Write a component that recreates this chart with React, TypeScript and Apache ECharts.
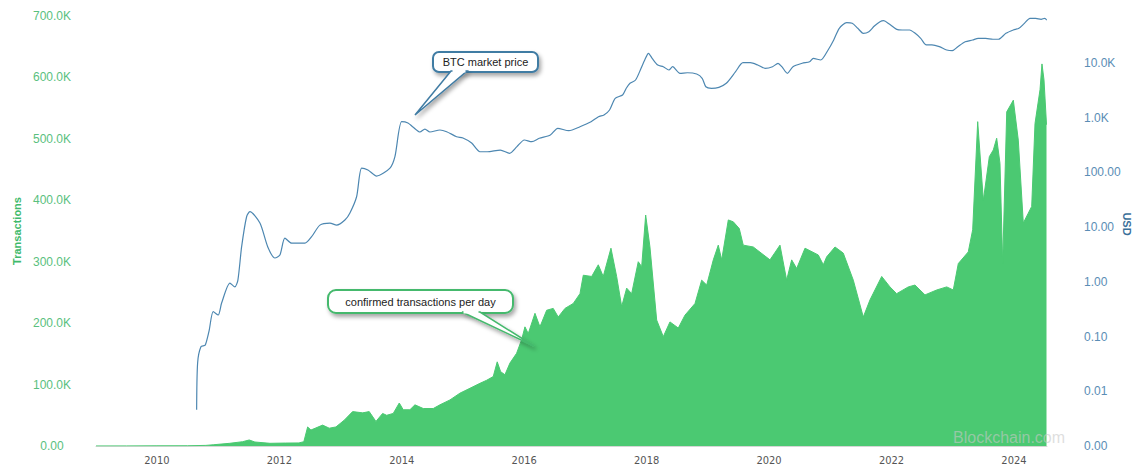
import React, { useEffect, useRef } from 'react';
import * as echarts from 'echarts';

// Year labels shown on the horizontal axis
const yearTicks = [2010, 2012, 2014, 2016, 2018, 2020, 2022, 2024];

// Confirmed transactions per day (fractional year -> count)
const txYears = [
  2009.005, 2009.5, 2010.0, 2010.5, 2010.8, 2010.92, 2011.19, 2011.4, 2011.508, 2011.6,
  2011.846, 2012.1, 2012.32, 2012.40, 2012.462, 2012.516, 2012.707, 2012.815, 2012.924, 2013.060,
  2013.197, 2013.361, 2013.468, 2013.578, 2013.687, 2013.753, 2013.860, 2013.959, 2014.024, 2014.133,
  2014.215, 2014.351, 2014.514, 2014.623, 2014.787, 2014.950, 2015.114, 2015.277, 2015.386, 2015.494,
  2015.559, 2015.615, 2015.685, 2015.767, 2015.876, 2015.958, 2016.012, 2016.066, 2016.176, 2016.257,
  2016.367, 2016.474, 2016.556, 2016.666, 2016.801, 2016.911, 2016.965, 2017.102, 2017.210, 2017.291,
  2017.417, 2017.510, 2017.592, 2017.674, 2017.755, 2017.863, 2017.919, 2017.984, 2018.054, 2018.164,
  2018.272, 2018.381, 2018.517, 2018.626, 2018.790, 2018.899, 2018.981, 2019.089, 2019.170, 2019.226,
  2019.334, 2019.415, 2019.513, 2019.578, 2019.742, 2020.015, 2020.178, 2020.287, 2020.369, 2020.451,
  2020.587, 2020.804, 2020.886, 2020.941, 2021.077, 2021.212, 2021.376, 2021.539, 2021.649, 2021.840,
  2021.975, 2022.084, 2022.274, 2022.383, 2022.547, 2022.738, 2022.902, 2023.009, 2023.091, 2023.254,
  2023.326, 2023.408, 2023.500, 2023.598, 2023.663, 2023.718, 2023.772, 2023.816, 2023.882, 2023.990,
  2024.071, 2024.153, 2024.234, 2024.290, 2024.344, 2024.426, 2024.458, 2024.491, 2024.532,
];
const txValues = [
  100, 150, 300, 400, 1000, 2000, 4400, 7000, 9800, 6500,
  4400, 4800, 5000, 7000, 31000, 26000, 34000, 29000, 31000, 42000,
  56000, 54000, 56000, 40000, 53000, 50000, 53000, 70000, 59000, 59000,
  67000, 61000, 61000, 67000, 75000, 86000, 94000, 102000, 107000, 113000,
  137000, 121000, 116000, 135000, 151000, 173000, 194000, 183000, 216000, 194000,
  221000, 224000, 210000, 224000, 232000, 248000, 278000, 276000, 295000, 276000,
  322000, 276000, 227000, 257000, 248000, 300000, 292000, 376000, 324000, 205000,
  178000, 202000, 192000, 213000, 232000, 270000, 262000, 303000, 327000, 303000,
  368000, 365000, 354000, 327000, 324000, 303000, 327000, 270000, 303000, 289000,
  322000, 311000, 295000, 308000, 324000, 314000, 270000, 210000, 238000, 276000,
  259000, 248000, 259000, 262000, 246000, 254000, 259000, 254000, 297000, 316000,
  352000, 528000, 400000, 471000, 482000, 501000, 460000, 297000, 544000, 563000,
  498000, 363000, 379000, 390000, 525000, 580000, 622000, 596000, 523000,
];

// BTC market price in USD (fractional year -> price)
const priceYears = [
  2010.649, 2010.665, 2010.719, 2010.789, 2010.828, 2010.854, 2010.920, 2011.001, 2011.057, 2011.193,
  2011.274, 2011.323, 2011.384, 2011.465, 2011.519, 2011.683, 2011.813, 2011.928, 2012.009, 2012.091,
  2012.201, 2012.418, 2012.527, 2012.663, 2012.826, 2012.936, 2013.071, 2013.153, 2013.262, 2013.344,
  2013.447, 2013.589, 2013.807, 2013.888, 2013.998, 2014.101, 2014.182, 2014.297, 2014.378, 2014.460,
  2014.623, 2014.733, 2014.896, 2014.999, 2015.141, 2015.277, 2015.398, 2015.610, 2015.761, 2015.881,
  2016.002, 2016.125, 2016.246, 2016.427, 2016.548, 2016.729, 2016.911, 2017.092, 2017.213, 2017.303,
  2017.394, 2017.486, 2017.607, 2017.667, 2017.728, 2017.819, 2017.909, 2017.969, 2018.030, 2018.090,
  2018.182, 2018.272, 2018.363, 2018.424, 2018.545, 2018.666, 2018.817, 2018.907, 2018.967, 2019.059,
  2019.180, 2019.301, 2019.453, 2019.574, 2019.694, 2019.815, 2019.936, 2020.057, 2020.146, 2020.209,
  2020.299, 2020.390, 2020.541, 2020.662, 2020.722, 2020.843, 2020.964, 2021.056, 2021.147, 2021.268,
  2021.358, 2021.449, 2021.539, 2021.630, 2021.720, 2021.812, 2021.872, 2021.964, 2022.085, 2022.175,
  2022.296, 2022.387, 2022.477, 2022.569, 2022.660, 2022.781, 2022.902, 2022.992, 2023.083, 2023.204,
  2023.325, 2023.415, 2023.537, 2023.658, 2023.748, 2023.869, 2023.990, 2024.081, 2024.171, 2024.262,
  2024.354, 2024.444, 2024.504, 2024.535,
];
const priceValues = [
  0.0046, 0.033, 0.065, 0.07, 0.098, 0.13, 0.285, 0.248, 0.41, 0.95,
  0.81, 1.08, 4.4, 15.5, 19.2, 11.9, 4.3, 2.73, 3.1, 6.3,
  5.1, 5.1, 6.7, 10.9, 11.9, 10.9, 13.5, 18.2, 36, 120,
  111, 86, 120, 194, 847, 802, 678, 549, 622, 549,
  597, 556, 450, 426, 345, 239, 239, 257, 224, 296,
  392, 365, 421, 483, 641, 580, 686, 847, 1045, 1122,
  1385, 2265, 2605, 3455, 4260, 4900, 8010, 11360, 15060, 12190,
  9200, 8570, 7460, 8570, 6490, 6650, 6300, 5260, 3690, 3450,
  3600, 4260, 6950, 10140, 10140, 9200, 8010, 8570, 9890, 8570,
  6490, 8570, 9890, 10570, 12190, 11360, 17300, 26360, 43150, 54600,
  53200, 43150, 34900, 37400, 47500, 57000, 59400, 51600, 41300, 40200,
  40200, 34900, 28300, 21400, 21400, 19900, 17300, 16800, 19900, 24500,
  26360, 28300, 28300, 27200, 27200, 34900, 40200, 43150, 53200, 65600,
  65600, 63000, 65600, 61100,
];

const GREEN = '#4bc972';
const BLUE = '#4d87b1';
const FONT = "'Liberation Sans', Arial, sans-serif";
const NARROW = "'Liberation Sans Narrow', 'DejaVu Sans Condensed', 'Liberation Sans', sans-serif";

function callout(
  box: { x: number; y: number; w: number; h: number; r: number },
  tail: { a: number; b: number; tipX: number; tipY: number },
  label: string,
  color: string
) {
  const by = box.y + box.h;
  const shadow = {
    shadowBlur: 4,
    shadowOffsetX: 2,
    shadowOffsetY: 3,
    shadowColor: 'rgba(0,0,0,0.35)',
  };
  return [
    {
      type: 'rect',
      z: 100,
      shape: { x: box.x, y: box.y, width: box.w, height: box.h, r: box.r },
      style: { fill: '#fff', stroke: color, lineWidth: 2, ...shadow },
    },
    {
      type: 'polygon',
      z: 101,
      shape: { points: [[tail.a, by - 1], [tail.tipX, tail.tipY], [tail.b, by - 1]] },
      style: { fill: '#fff', stroke: color, lineWidth: 1.5, ...shadow },
    },
    {
      type: 'line',
      z: 102,
      shape: { x1: tail.a + 1.5, y1: by - 1, x2: tail.b - 1.5, y2: by - 1 },
      style: { stroke: '#fff', lineWidth: 3 },
    },
    {
      type: 'text',
      z: 103,
      x: box.x + box.w / 2,
      y: box.y + box.h / 2,
      style: {
        text: label,
        fill: '#222',
        fontSize: 11,
        fontFamily: FONT,
        align: 'center',
        verticalAlign: 'middle',
      },
    },
  ];
}

export default function App() {
  const ref = useRef<HTMLDivElement>(null);

  useEffect(() => {
    if (!ref.current) return;
    const chart = echarts.init(ref.current, null, { renderer: 'svg' });

    const txData = txYears.map((y, i) => [y, txValues[i]]);
    const priceData = priceYears.map((y, i) => [y, priceValues[i]]);

    chart.setOption({
      animation: false,
      grid: {
        left: 96,
        right: 89,
        top: 16,
        bottom: 20,
        containLabel: false,
        outerBoundsMode: 'none',
      },
      xAxis: {
        type: 'value',
        min: 2009.005,
        max: 2024.54,
        axisLine: { show: true, lineStyle: { color: '#d6d6d6', width: 1 } },
        axisTick: { show: false },
        splitLine: { show: false },
        axisLabel: {
          customValues: yearTicks,
          formatter: (v: number) => String(Math.round(v)),
          color: '#555',
          fontSize: 11,
          fontFamily: NARROW,
          margin: 9,
        },
      },
      yAxis: [
        {
          type: 'value',
          position: 'left',
          min: 0,
          max: 700000,
          interval: 100000,
          name: 'Transactions',
          nameLocation: 'middle',
          nameGap: 73,
          nameTextStyle: { color: '#3fba6b', fontWeight: 'bold', fontSize: 11, fontFamily: FONT },
          axisLine: { show: false },
          axisTick: { show: false },
          splitLine: { show: false },
          axisLabel: {
            color: '#5abf7e',
            fontSize: 12,
            fontFamily: FONT,
            align: 'center',
            margin: 44,
            formatter: (v: number) => (v === 0 ? '0.00' : (v / 1000).toFixed(1) + 'K'),
          },
        },
        {
          type: 'log',
          logBase: 10,
          position: 'right',
          min: 0.001,
          max: 72400,
          interval: 1,
          axisLine: { show: false },
          axisTick: { show: false },
          splitLine: { show: false },
          axisLabel: {
            color: '#5a8db5',
            fontSize: 12,
            fontFamily: FONT,
            align: 'left',
            margin: 37,
            showMaxLabel: false,
            formatter: (v: number) => (v >= 1000 ? (v / 1000).toFixed(1) + 'K' : v.toFixed(2)),
          },
        },
      ],
      series: [
        {
          name: 'confirmed transactions per day',
          type: 'line',
          yAxisIndex: 0,
          data: txData,
          showSymbol: false,
          lineStyle: { width: 1, color: GREEN },
          itemStyle: { color: GREEN },
          areaStyle: { color: GREEN, opacity: 1 },
          z: 2,
        },
        {
          name: 'BTC market price',
          type: 'line',
          yAxisIndex: 1,
          data: priceData,
          showSymbol: false,
          smooth: 0.25,
          lineStyle: { width: 1.2, color: BLUE },
          itemStyle: { color: BLUE },
          z: 3,
        },
      ],
      graphic: [
        // Right axis title, reading top to bottom
        {
          type: 'text',
          x: 1127,
          y: 224,
          rotation: -Math.PI / 2,
          style: {
            text: 'USD',
            fill: '#3a6f99',
            fontWeight: 'bold',
            fontSize: 11,
            fontFamily: FONT,
            align: 'center',
            verticalAlign: 'middle',
          },
        },
        {
          type: 'text',
          z: 50,
          x: 953,
          y: 437,
          style: {
            text: 'Blockchain.com',
            fill: 'rgba(200,200,200,0.6)',
            fontSize: 16,
            fontFamily: FONT,
            align: 'left',
            verticalAlign: 'middle',
          },
        },
        ...callout(
          { x: 433, y: 52, w: 105, h: 20, r: 6 },
          { a: 451, b: 467, tipX: 415, tipY: 115 },
          'BTC market price',
          '#3f7ba3'
        ),
        ...callout(
          { x: 328, y: 290, w: 185, h: 23, r: 8 },
          { a: 462, b: 480, tipX: 534, tipY: 346 },
          'confirmed transactions per day',
          '#45b96d'
        ),
      ],
    });

    return () => chart.dispose();
  }, []);

  return (
    <div
      ref={ref}
      style={{ position: 'fixed', left: 0, top: 0, width: 1136, height: 466, background: '#fff' }}
    />
  );
}
